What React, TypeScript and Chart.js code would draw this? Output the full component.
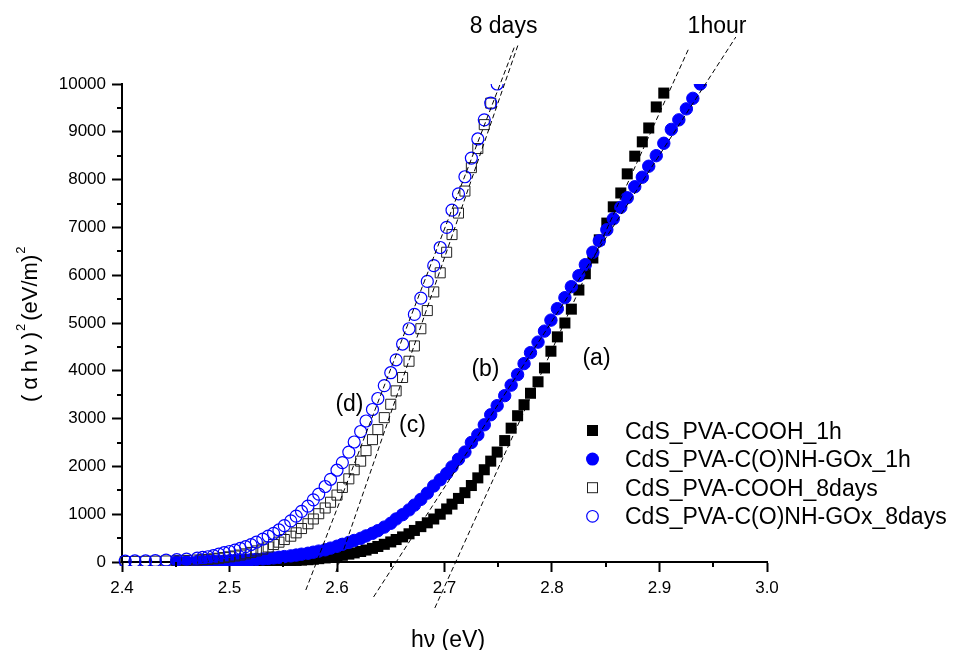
import React, { useEffect, useRef } from 'react';
import { Chart, registerables } from 'chart.js';

Chart.register(...registerables);

const FONT = '"Liberation Sans", Arial, Helvetica, sans-serif';

// Photon energy hν (eV) of the measured points
const photonEnergy = [
  2.403, 2.412, 2.422, 2.431, 2.441, 2.451, 2.460, 2.470, 2.475, 2.480,
  2.485, 2.490, 2.495, 2.500, 2.505, 2.510, 2.515, 2.520, 2.525, 2.531,
  2.536, 2.541, 2.546, 2.551, 2.557, 2.562, 2.567, 2.573, 2.578, 2.583,
  2.589, 2.594, 2.600, 2.605, 2.611, 2.616, 2.622, 2.627, 2.633, 2.638,
  2.644, 2.650, 2.655, 2.661, 2.667, 2.672, 2.678, 2.684, 2.690, 2.696,
  2.702, 2.707, 2.713, 2.719, 2.725, 2.731, 2.737, 2.743, 2.749, 2.756,
  2.762, 2.768, 2.774, 2.780, 2.787, 2.793, 2.799, 2.805, 2.812, 2.818,
  2.825, 2.831, 2.838, 2.844, 2.851, 2.857, 2.864, 2.870, 2.877, 2.884,
  2.890, 2.897, 2.904, 2.911, 2.918, 2.925, 2.931, 2.938,
];

// (αhν)^2 for CdS_PVA-COOH_1h
const coohOneHour = [
  null, null, null, null, null, null, null, null, null, null,
  null, null, null, 2, 3, 4, 5, 6, 8, 10,
  12, 15, 18, 22, 27, 33, 40, 48, 58, 70,
  85, 100, 120, 140, 165, 190, 220, 250, 285, 325,
  370, 420, 470, 525, 590, 660, 740, 820, 900, 1000,
  1110, 1210, 1330, 1450, 1600, 1760, 1930, 2110, 2300, 2540,
  2800, 3060, 3290, 3530, 3770, 4060, 4410, 4710, 5000, 5290,
  5690, 6030, 6360, 6740, 7090, 7430, 7720, 8120, 8490, 8790,
  9080, 9520, 9810, null, null, null, null, null,
];

// (αhν)^2 for CdS_PVA-C(O)NH-GOx_1h
const goxOneHour = [
  null, null, null, null, null, 4, 6, 8, 10, 12,
  15, 18, 21, 25, 30, 35, 41, 48, 56, 65,
  75, 86, 99, 113, 128, 145, 163, 183, 205, 228,
  255, 290, 330, 370, 410, 450, 495, 545, 600, 655,
  730, 810, 900, 990, 1090, 1190, 1310, 1440, 1590, 1720,
  1850, 1990, 2150, 2300, 2500, 2660, 2870, 3080, 3270, 3480,
  3700, 3920, 4150, 4380, 4600, 4830, 5060, 5300, 5530, 5760,
  5990, 6220, 6480, 6720, 6950, 7180, 7420, 7620, 7850, 8050,
  8280, 8500, 8760, 9050, 9250, 9480, 9700, 10000,
];

// (αhν)^2 for CdS_PVA-COOH_8days
const coohEightDays = [
  10, 12, 14, 17, 21, 26, 33, 42, 48, 55,
  65, 78, 92, 108, 125, 145, 170, 200, 232, 270,
  315, 365, 415, 470, 540, 610, 700, 800, 900, 1010,
  1130, 1250, 1400, 1560, 1740, 1930, 2110, 2330, 2560, 2770,
  3020, 3300, 3580, 3860, 4200, 4520, 4880, 5260, 5650, 6050,
  6480, 6850, 7300, 7760, 8250, 8650, 9150, 9600, null, null,
  null, null, null, null, null, null, null, null, null, null,
  null, null, null, null, null, null, null, null, null, null,
  null, null, null, null, null, null, null, null,
];

// (αhν)^2 for CdS_PVA-C(O)NH-GOx_8days
const goxEightDays = [
  20, 22, 25, 30, 38, 48, 60, 80, 95, 110,
  135, 165, 195, 220, 250, 285, 320, 365, 415, 480,
  540, 600, 670, 760, 860, 960, 1060, 1170, 1300, 1420,
  1580, 1730, 1920, 2080, 2300, 2510, 2730, 2950, 3190, 3420,
  3690, 3960, 4230, 4560, 4880, 5180, 5520, 5870, 6200, 6580,
  7000, 7360, 7700, 8060, 8450, 8850, 9250, 9600, 10000, null,
  null, null, null, null, null, null, null, null, null, null,
  null, null, null, null, null, null, null, null, null, null,
  null, null, null, null, null, null, null, null,
];

const seriesNames = [
  'CdS_PVA-COOH_1h',
  'CdS_PVA-C(O)NH-GOx_1h',
  'CdS_PVA-COOH_8days',
  'CdS_PVA-C(O)NH-GOx_8days',
];

// Tangent (extrapolation) lines: (a), (b), (c), (d)
const tangentStartX = [2.691, 2.634, 2.599, 2.571];
const tangentStartY = [-962, -732, -209, -586];
const tangentEndX = [2.927, 2.971, 2.769, 2.765];
const tangentEndY = [10732, 10983, 10858, 10774];

const curveLabels = ['(a)', '(b)', '(c)', '(d)'];
const curveLabelX = [2.8414, 2.7381, 2.6702, 2.6116];
const curveLabelY = [4121, 3891, 2720, 3159];

const groupLabels = ['8 days', '1hour'];
const groupLabelX = [2.7549, 2.9535];
const groupLabelY = [11063, 11067];

const xMinorTicks = [2.45, 2.55, 2.65, 2.75, 2.85, 2.95];
const yMinorTicks = [500, 1500, 2500, 3500, 4500, 5500, 6500, 7500, 8500, 9500];

const BLUE = '#0000ff';

export default function App() {
  const ref = useRef<HTMLCanvasElement>(null);

  useEffect(() => {
    const canvas = ref.current;
    if (!canvas) return;

    const toPoints = (ys: (number | null)[]) =>
      photonEnergy
        .map((x, i) => ({ x, y: ys[i] }))
        .filter((p) => p.y !== null) as { x: number; y: number }[];

    const markerClip = { left: 6, top: 0, right: 0, bottom: 4 };

    const tangentSets = tangentStartX.map((_, i) => ({
      type: 'scatter' as const,
      label: 'tangent ' + curveLabels[i],
      data: [
        { x: tangentStartX[i], y: tangentStartY[i] },
        { x: tangentEndX[i], y: tangentEndY[i] },
      ],
      showLine: true,
      borderColor: '#000',
      borderWidth: 1,
      borderDash: [5, 3],
      pointRadius: 0,
      pointHoverRadius: 0,
      clip: false as const,
      order: 0,
    }));

    const datasets: any[] = [
      {
        label: seriesNames[0],
        data: toPoints(coohOneHour),
        pointStyle: 'rect',
        pointRadius: 7.8,
        backgroundColor: '#000',
        borderColor: '#000',
        borderWidth: 0,
        clip: markerClip,
        order: 4,
      },
      {
        label: seriesNames[1],
        data: toPoints(goxOneHour),
        pointStyle: 'circle',
        pointRadius: 6.2,
        backgroundColor: BLUE,
        borderColor: BLUE,
        borderWidth: 1,
        clip: markerClip,
        order: 3,
      },
      {
        label: seriesNames[2],
        data: toPoints(coohEightDays),
        pointStyle: 'rect',
        pointRadius: 7.1,
        backgroundColor: 'rgba(0,0,0,0)',
        borderColor: '#222',
        borderWidth: 1,
        clip: markerClip,
        order: 2,
      },
      {
        label: seriesNames[3],
        data: toPoints(goxEightDays),
        pointStyle: 'circle',
        pointRadius: 6,
        backgroundColor: 'rgba(0,0,0,0)',
        borderColor: BLUE,
        borderWidth: 1.2,
        clip: markerClip,
        order: 1,
      },
      ...tangentSets,
    ];

    const annotate = {
      id: 'annotate',
      afterDraw(chart: any) {
        const { ctx, chartArea } = chart;
        const xs = chart.scales.x;
        const ys = chart.scales.y;
        ctx.save();

        // minor ticks
        ctx.strokeStyle = '#000';
        ctx.lineWidth = 2;
        ctx.beginPath();
        yMinorTicks.forEach((v) => {
          const py = Math.round(ys.getPixelForValue(v));
          ctx.moveTo(chartArea.left - 5, py);
          ctx.lineTo(chartArea.left, py);
        });
        xMinorTicks.forEach((v) => {
          const px = Math.round(xs.getPixelForValue(v));
          ctx.moveTo(px, chartArea.bottom);
          ctx.lineTo(px, chartArea.bottom + 5);
        });
        ctx.stroke();

        // curve labels
        ctx.fillStyle = '#000';
        ctx.textAlign = 'center';
        ctx.textBaseline = 'alphabetic';
        ctx.font = `23px ${FONT}`;
        curveLabels.forEach((t, i) => {
          ctx.fillText(t, xs.getPixelForValue(curveLabelX[i]), ys.getPixelForValue(curveLabelY[i]));
        });
        groupLabels.forEach((t, i) => {
          ctx.fillText(t, xs.getPixelForValue(groupLabelX[i]), ys.getPixelForValue(groupLabelY[i]));
        });

        // x title
        ctx.font = `23px ${FONT}`;
        ctx.fillText('h\u03bd (eV)', 448, 647);

        // y title (rotated, with superscripts)
        ctx.save();
        ctx.translate(36.5, 322);
        ctx.rotate(-Math.PI / 2);
        ctx.textAlign = 'left';
        ctx.font = `22px ${FONT}`;
        const mainChars = ['(', '\u03b1', 'h', '\u03bd', ')'];
        const widths = mainChars.map((c) => ctx.measureText(c).width);
        const total = widths.reduce((a, b) => a + b, 0);
        const gap = Math.max(0, (70 - total) / (mainChars.length - 1));
        let u = -80;
        mainChars.forEach((c, i) => {
          ctx.fillText(c, u, 0);
          u += widths[i] + gap;
        });
        u -= gap;
        ctx.font = `13px ${FONT}`;
        ctx.fillText('2', u + 1, -11.5);
        u += 1 + ctx.measureText('2').width + 3;
        ctx.font = `22px ${FONT}`;
        ctx.fillText('(eV/m)', u, 0);
        u += ctx.measureText('(eV/m)').width;
        ctx.font = `13px ${FONT}`;
        ctx.fillText('2', u + 1, -11.5);
        ctx.restore();

        // legend
        const lx = 592.5;
        const rows = [430.5, 459.1, 487.7, 516.3];
        ctx.fillStyle = '#000';
        ctx.fillRect(lx - 5.5, rows[0] - 5.5, 11, 11);
        ctx.fillStyle = BLUE;
        ctx.beginPath();
        ctx.arc(lx, rows[1], 6.5, 0, Math.PI * 2);
        ctx.fill();
        ctx.strokeStyle = '#222';
        ctx.lineWidth = 1;
        ctx.strokeRect(lx - 5, rows[2] - 5, 10, 10);
        ctx.strokeStyle = BLUE;
        ctx.lineWidth = 1.2;
        ctx.beginPath();
        ctx.arc(lx, rows[3], 5.8, 0, Math.PI * 2);
        ctx.stroke();
        ctx.fillStyle = '#000';
        ctx.textAlign = 'left';
        ctx.font = `23px ${FONT}`;
        seriesNames.forEach((n, i) => ctx.fillText(n, 625, rows[i] + 8));

        ctx.restore();
      },
    };

    const axisCommon = {
      grid: {
        drawOnChartArea: false,
        drawTicks: true,
        tickLength: 10,
        tickWidth: 2,
        tickColor: '#000',
      },
      border: { display: true, color: '#000', width: 2 },
    };

    const chart = new Chart(canvas, {
      type: 'scatter',
      data: { datasets },
      options: {
        responsive: false,
        animation: false,
        devicePixelRatio: 1,
        events: [],
        layout: { padding: { left: 0, top: 84, right: 186, bottom: 0 } },
        plugins: {
          legend: { display: false },
          tooltip: { enabled: false },
          title: { display: false },
        },
        scales: {
          x: {
            type: 'linear',
            min: 2.4,
            max: 3.0,
            afterFit: (s: any) => {
              s.height = 88;
            },
            ticks: {
              stepSize: 0.1,
              autoSkip: false,
              maxRotation: 0,
              padding: 6,
              color: '#000',
              font: { family: FONT, size: 17 },
              callback: (v: any) => Number(v).toFixed(1),
            },
            ...axisCommon,
          },
          y: {
            type: 'linear',
            min: 0,
            max: 10000,
            afterFit: (s: any) => {
              s.width = 122;
            },
            ticks: {
              stepSize: 1000,
              padding: 6,
              color: '#000',
              font: { family: FONT, size: 17 },
              callback: (v: any) => String(Math.round(Number(v))),
            },
            ...axisCommon,
          },
        },
      },
      plugins: [annotate],
    } as any);

    return () => chart.destroy();
  }, []);

  return (
    <div
      style={{
        position: 'fixed',
        left: 0,
        top: 0,
        width: 953,
        height: 650,
        background: '#fff',
      }}
    >
      <canvas ref={ref} width={953} height={650} style={{ display: 'block' }} />
    </div>
  );
}
